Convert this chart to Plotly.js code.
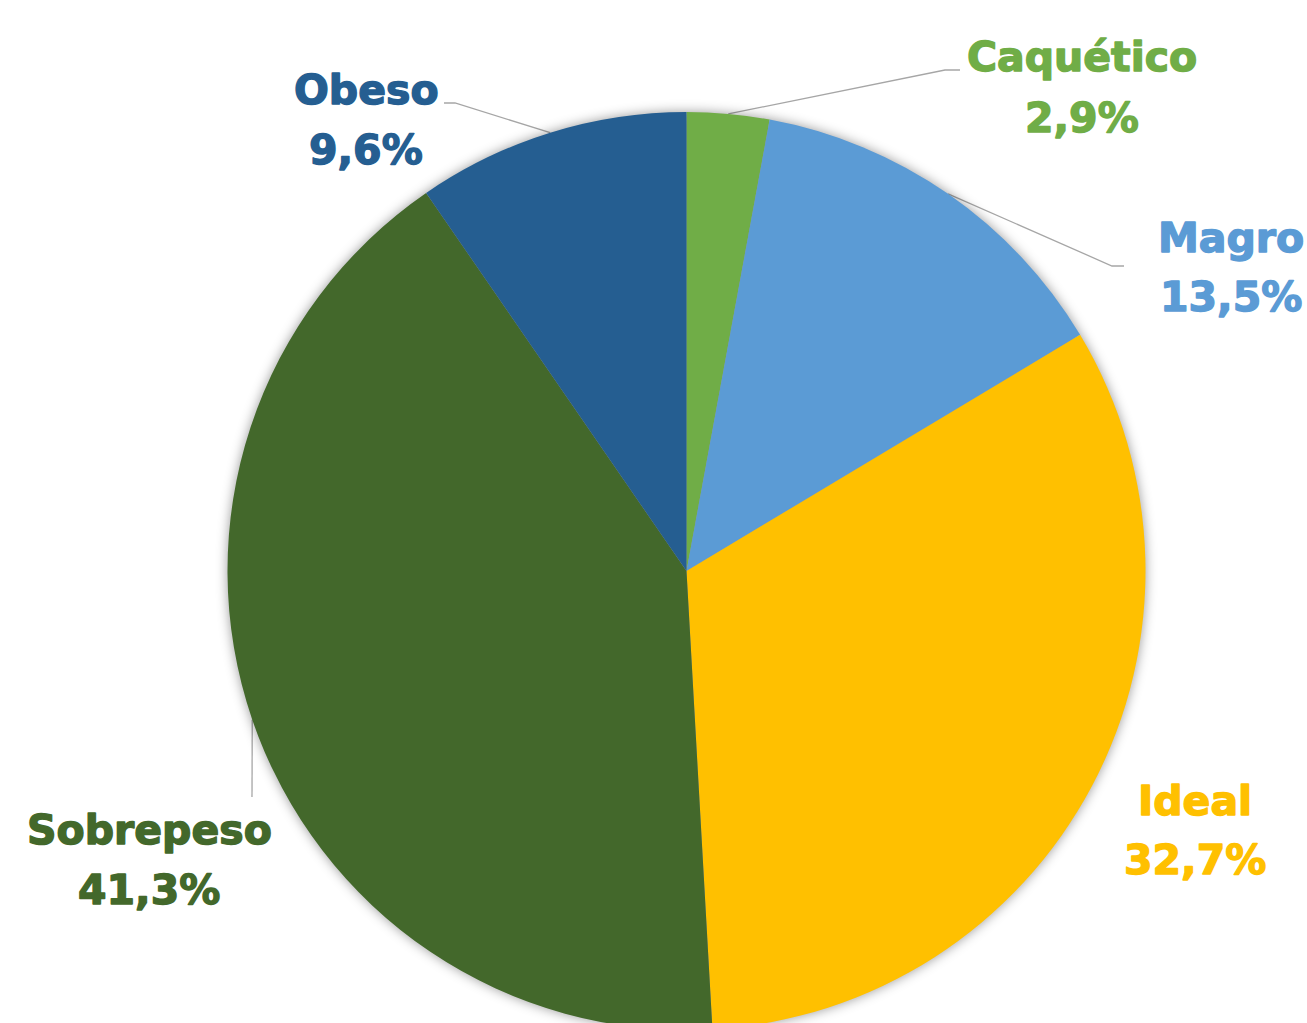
<!DOCTYPE html>
<html>
<head>
<meta charset="utf-8">
<script src="https://cdn.plot.ly/plotly-3.0.1.min.js"></script>
<style>
html, body { margin: 0; padding: 0; overflow: hidden; background: #fff; }
#chart { width: 1307px; height: 1100px; }
.pielayer .trace { filter: drop-shadow(0 0 6px rgba(0,0,0,0.4)); }
</style>
</head>
<body>
<div id="chart"></div>
<script>
const categories = ["Caquético", "Magro", "Ideal", "Sobrepeso", "Obeso"];
const values = [2.9, 13.5, 32.7, 41.3, 9.6];
const valueLabels = ["2,9%", "13,5%", "32,7%", "41,3%", "9,6%"];
const colors = ["#70AD47", "#5B9BD5", "#FFC000", "#43682B", "#255E91"];

const W = 1307, H = 1100;
const cx = 686.5, cy = 571, R = 459;

// label layout (pixel positions of label centres and leader elbows)
const labelPos = [
  {x: 1082, y1: 57, y2: 118, elbow: [[945, 70], [960, 70]]},
  {x: 1231, y1: 238, y2: 297, elbow: [[1112, 266], [1124, 266]]},
  {x: 1195, y1: 801, y2: 860, elbow: null},
  {x: 149, y1: 830, y2: 890, elbow: [[252, 797]]},
  {x: 366, y1: 90, y2: 150, elbow: [[455, 103], [444, 103]]}
];

const px = x => x / W;
const py = y => 1 - y / H;

const annotations = [];
const shapes = [];
const total = values.reduce((a, b) => a + b, 0);
let cum = 0;
categories.forEach((c, i) => {
  const mid = (cum + values[i] / 2) / total * 2 * Math.PI;
  cum += values[i];
  const ex = cx + R * Math.sin(mid), ey = cy - R * Math.cos(mid);
  const lp = labelPos[i];
  const font = {family: "DejaVu Sans", size: 41, color: colors[i], weight: "bold"};
  annotations.push({xref: "paper", yref: "paper", x: px(lp.x), y: py(lp.y1), text: "<b>" + c + "</b>",
    showarrow: false, xanchor: "center", yanchor: "middle", font: font});
  annotations.push({xref: "paper", yref: "paper", x: px(lp.x), y: py(lp.y2), text: "<b>" + valueLabels[i] + "</b>",
    showarrow: false, xanchor: "center", yanchor: "middle", font: font});
  if (lp.elbow) {
    let path = "M" + px(ex) + "," + py(ey);
    lp.elbow.forEach(p => { path += " L" + px(p[0]) + "," + py(p[1]); });
    shapes.push({type: "path", xref: "paper", yref: "paper", path: path,
      line: {color: "#A6A6A6", width: 1.3}, layer: "below"});
  }
});

const trace = {
  type: "pie",
  labels: categories,
  values: values,
  sort: false,
  direction: "clockwise",
  rotation: 0,
  textinfo: "none",
  hoverinfo: "label+percent",
  marker: {colors: colors, line: {width: 0}},
  domain: {x: [px(cx - R), px(cx + R)], y: [py(cy + R), py(cy - R)]},
  showlegend: false
};

const layout = {
  width: W, height: H,
  margin: {l: 0, r: 0, t: 0, b: 0},
  paper_bgcolor: "#fff",
  showlegend: false,
  annotations: annotations,
  shapes: shapes
};

Plotly.newPlot("chart", [trace], layout, {displayModeBar: false, staticPlot: true}).then(gd => {
  // thicken the label strokes to approximate a heavier typeface
  gd.querySelectorAll(".annotation-text").forEach(t => {
    const f = t.style.fill || t.getAttribute("fill");
    t.style.stroke = f;
    t.style.strokeWidth = "1.4px";
    t.style.strokeLinejoin = "round";
  });
});
</script>
</body>
</html>
